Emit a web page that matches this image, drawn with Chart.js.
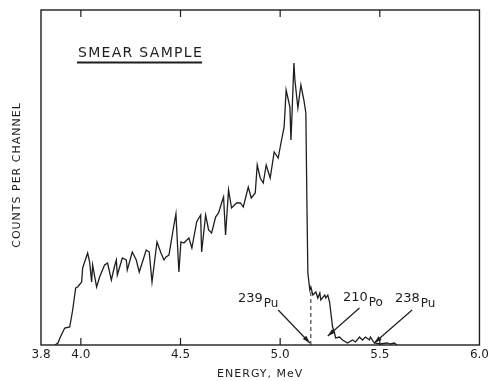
<!DOCTYPE html>
<html lang="en">
  <head>
    <meta charset="UTF-8" />
    <title>Smear sample spectrum</title>
    <script src="https://cdn.jsdelivr.net/npm/chart.js"></script>
    <style>
      html, body { margin: 0; padding: 0; background: #fff; }
      #wrap { width: 492px; height: 381px; }
    </style>
  </head>
  <body>
    <div id="wrap"><canvas id="spectrum" width="492" height="381"></canvas></div>
    <script>
      // energy (MeV) and counts per channel (arbitrary units)
      const energy = [
        3.870, 3.885, 3.895, 3.919, 3.944, 3.959, 3.974, 3.984, 4.004, 4.009,
        4.019, 4.034, 4.044, 4.054, 4.059, 4.079, 4.094, 4.119, 4.134, 4.153,
        4.168, 4.178, 4.183, 4.208, 4.228, 4.233, 4.258, 4.278, 4.293, 4.328,
        4.343, 4.357, 4.382, 4.402, 4.417, 4.427, 4.442, 4.467, 4.477, 4.492,
        4.502, 4.517, 4.532, 4.542, 4.557, 4.581, 4.601, 4.606, 4.626, 4.641,
        4.656, 4.676, 4.691, 4.706, 4.716, 4.726, 4.741, 4.756, 4.781, 4.801,
        4.815, 4.840, 4.855, 4.875, 4.885, 4.900, 4.915, 4.930, 4.950, 4.970,
        4.990, 5.005, 5.020, 5.030, 5.049, 5.054, 5.059, 5.069, 5.074, 5.089,
        5.104, 5.119, 5.129, 5.134, 5.139, 5.149, 5.154, 5.164, 5.179, 5.189,
        5.199, 5.204, 5.224, 5.229, 5.239, 5.248, 5.263, 5.273, 5.278, 5.298,
        5.313, 5.338, 5.363, 5.378, 5.398, 5.413, 5.428, 5.448, 5.453, 5.472,
        5.502, 5.537, 5.552, 5.572, 5.587
      ];
      const counts = [
        0, 2, 7, 17, 18, 35, 57, 58, 63, 77,
        83, 92, 83, 63, 80, 58, 68, 80, 82, 65,
        78, 85, 70, 87, 85, 75, 93, 85, 73, 95,
        93, 63, 103, 92, 85, 88, 90, 120, 131, 73,
        103, 102, 105, 107, 97, 123, 130, 93, 130, 115,
        112, 128, 132, 142, 148, 110, 155, 137, 142, 142,
        138, 158, 147, 152, 180, 167, 162, 180, 167, 193,
        187, 203, 218, 255, 238, 205, 228, 282, 265, 237,
        260, 245, 232, 145, 72, 55, 58, 50, 53, 47,
        52, 45, 50, 47, 50, 43, 18, 12, 7, 8,
        5, 2, 5, 3, 8, 5, 8, 5, 8, 2,
        1, 2, 1, 2, 0
      ];
      const tickValues = [3.8, 4.0, 4.5, 5.0, 5.5, 6.0];
      const innerTicks = [4.0, 4.5, 5.0, 5.5];

      // isotope markers: label, arrow tail, arrow head (energy, counts)
      const markerLabels = ['239', '210', '238'];
      const markerElements = ['Pu', 'Po', 'Pu'];
      const arrowTails = [[4.990, 35], [5.398, 37], [5.662, 35]];
      const arrowHeads = [[5.149, 2], [5.239, 9], [5.472, 2]];
      const dashedLine = [5.154, 57];

      const ink = '#1e1e1e';
      const font = '"DejaVu Sans", sans-serif';

      function arrow(ctx, x1, y1, x2, y2) {
        const a = Math.atan2(y2 - y1, x2 - x1);
        ctx.beginPath();
        ctx.moveTo(x1, y1);
        ctx.lineTo(x2, y2);
        ctx.stroke();
        ctx.beginPath();
        ctx.moveTo(x2, y2);
        ctx.lineTo(x2 - 8 * Math.cos(a - 0.3), y2 - 8 * Math.sin(a - 0.3));
        ctx.lineTo(x2 - 8 * Math.cos(a + 0.3), y2 - 8 * Math.sin(a + 0.3));
        ctx.closePath();
        ctx.fill();
      }

      const decor = {
        id: 'decor',
        afterDraw(chart) {
          const { ctx, chartArea: ca, scales } = chart;
          const xs = scales.x, ys = scales.y;
          ctx.save();
          ctx.strokeStyle = ink;
          ctx.fillStyle = ink;

          // frame
          ctx.lineWidth = 1.4;
          ctx.strokeRect(ca.left, ca.top, ca.right - ca.left, ca.bottom - ca.top);

          // inward ticks
          ctx.lineWidth = 1.2;
          innerTicks.forEach((v) => {
            const px = xs.getPixelForValue(v);
            ctx.beginPath();
            ctx.moveTo(px, ca.bottom);
            ctx.lineTo(px, ca.bottom - 7);
            ctx.moveTo(px, ca.top);
            ctx.lineTo(px, ca.top + 7);
            ctx.stroke();
          });

          // dashed line at 239Pu
          ctx.lineWidth = 1;
          ctx.setLineDash([4, 3]);
          ctx.beginPath();
          ctx.moveTo(xs.getPixelForValue(dashedLine[0]), ys.getPixelForValue(0));
          ctx.lineTo(xs.getPixelForValue(dashedLine[0]), ys.getPixelForValue(dashedLine[1]));
          ctx.stroke();
          ctx.setLineDash([]);

          // arrows and isotope labels
          ctx.lineWidth = 1.2;
          ctx.textBaseline = 'alphabetic';
          markerLabels.forEach((lab, i) => {
            const t = arrowTails[i], h = arrowHeads[i];
            arrow(ctx, xs.getPixelForValue(t[0]), ys.getPixelForValue(t[1]),
              xs.getPixelForValue(h[0]), ys.getPixelForValue(h[1]));
          });
          const labelPos = [[238, 302], [343, 301], [395, 302]];
          markerLabels.forEach((lab, i) => {
            ctx.font = '13px ' + font;
            ctx.textAlign = 'left';
            ctx.fillText(lab, labelPos[i][0], labelPos[i][1]);
            const w = ctx.measureText(lab).width;
            ctx.font = '12px ' + font;
            ctx.fillText(markerElements[i], labelPos[i][0] + w + 1, labelPos[i][1] + 5);
          });

          // title
          ctx.font = '14px ' + font;
          ctx.letterSpacing = '1.3px';
          ctx.textAlign = 'left';
          ctx.fillText('SMEAR SAMPLE', 78, 57);
          const tw = ctx.measureText('SMEAR SAMPLE').width;
          ctx.lineWidth = 1.8;
          ctx.beginPath();
          ctx.moveTo(77, 62.5);
          ctx.lineTo(77 + tw, 62.5);
          ctx.stroke();

          // axis titles
          ctx.font = '11px ' + font;
          ctx.letterSpacing = '1px';
          ctx.textAlign = 'center';
          ctx.textBaseline = 'middle';
          ctx.fillText('ENERGY, MeV', (ca.left + ca.right) / 2, 374);
          ctx.translate(17, 175);
          ctx.rotate(-Math.PI / 2);
          ctx.fillText('COUNTS PER CHANNEL', 0, 0);
          ctx.restore();
        }
      };

      const points = energy.map((e, i) => ({ x: e, y: counts[i] }));

      new Chart(document.getElementById('spectrum').getContext('2d'), {
        type: 'line',
        data: {
          datasets: [
            {
              data: points,
              borderColor: ink,
              borderWidth: 1.3,
              pointRadius: 0,
              tension: 0,
              fill: false
            }
          ]
        },
        options: {
          responsive: false,
          animation: false,
          layout: { padding: { left: 41, right: 9, top: 10, bottom: 0 } },
          plugins: { legend: { display: false }, tooltip: { enabled: false } },
          scales: {
            x: {
              type: 'linear',
              min: 3.8,
              max: 6.0,
              grid: { display: false, drawTicks: false },
              border: { display: false },
              afterBuildTicks: (s) => { s.ticks = tickValues.map((v) => ({ value: v })); },
              afterFit: (s) => { s.height = 36; },
              ticks: {
                padding: 3,
                color: ink,
                font: { family: font, size: 12 },
                callback: (v) => Number(v).toFixed(1)
              }
            },
            y: {
              display: false,
              min: 0,
              max: 335
            }
          }
        },
        plugins: [decor]
      });
    </script>
  </body>
</html>
